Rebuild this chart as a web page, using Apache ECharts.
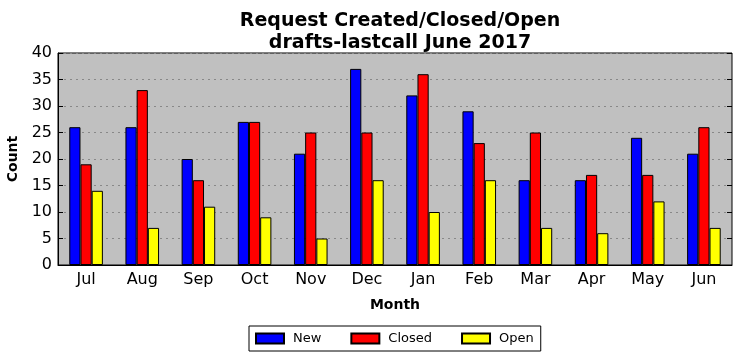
<!DOCTYPE html>
<html><head><meta charset="utf-8">
<script src="https://cdn.jsdelivr.net/npm/echarts@6/dist/echarts.min.js"></script>
<style>html,body{margin:0;padding:0;background:#fff}#c{width:741px;height:361px}</style>
</head><body><div id="c"></div>
<script>
const months = ['Jul','Aug','Sep','Oct','Nov','Dec','Jan','Feb','Mar','Apr','May','Jun'];
const newVals = [26,26,20,27,21,37,32,29,16,16,24,21];
const closedVals = [19,33,16,27,25,25,36,23,25,17,17,26];
const openVals = [14,7,11,9,5,16,10,16,7,6,12,7];
const FONT = 'DejaVu Sans';
const chart = echarts.init(document.getElementById('c'));
const barStyle = c => ({color:c, borderColor:'#000', borderWidth:1});
chart.setOption({
  animation:false,
  title:{text:'Request Created/Closed/Open\ndrafts-lastcall June 2017', left:395, textAlign:'center', top:5,
    textStyle:{fontFamily:FONT, fontWeight:'bold', fontSize:19, lineHeight:22, color:'#000'}},
  legend:{data:['New','Closed','Open'], left:249, top:326, orient:'horizontal',
    borderColor:'#000', borderWidth:1, borderRadius:0, padding:[6,7,6,6], itemGap:29,
    itemWidth:28, itemHeight:10, icon:'rect',
    textStyle:{fontFamily:FONT, fontSize:13, color:'#000', padding:[0,0,0,4]}},
  grid:{left:58, right:9, top:53, bottom:96, outerBoundsMode:'none', containLabel:false, show:true, backgroundColor:'#c0c0c0', borderColor:'#000', borderWidth:1},
  xAxis:[{type:'category', data:months, name:'Month', nameLocation:'middle', nameGap:33,
    nameTextStyle:{fontFamily:FONT, fontWeight:'bold', fontSize:14, color:'#000'},
    axisLine:{lineStyle:{color:'#000'}}, axisTick:{inside:true, alignWithLabel:true, length:5, lineStyle:{color:'#000'}},
    axisLabel:{fontFamily:FONT, fontSize:16, color:'#000', margin:7}},
    {type:'category', data:months, position:'top', axisLine:{show:false}, axisLabel:{show:false},
    axisTick:{inside:true, alignWithLabel:true, length:5, lineStyle:{color:'#000'}}}],
  yAxis:[{type:'value', min:0, max:40, interval:5, name:'Count', nameLocation:'middle', nameGap:33,
    nameTextStyle:{fontFamily:FONT, fontWeight:'bold', fontSize:14, color:'#000'},
    axisLine:{show:true, lineStyle:{color:'#000'}}, axisTick:{show:true, inside:true, length:5, lineStyle:{color:'#000'}},
    axisLabel:{fontFamily:FONT, fontSize:16, color:'#000', margin:6},
    splitLine:{show:true, lineStyle:{color:'#888', type:[2,4], width:1}}},
    {type:'value', min:0, max:40, interval:5, position:'right', axisLine:{show:false}, axisLabel:{show:false},
    axisTick:{show:true, inside:true, length:5, lineStyle:{color:'#000'}}, splitLine:{show:false}}],
  series:[
    {name:'New', type:'bar', data:newVals, barWidth:11.2, barGap:'0%', itemStyle:barStyle('#0000ff')},
    {name:'Closed', type:'bar', data:closedVals, barWidth:11.2, barGap:'0%', itemStyle:barStyle('#ff0000')},
    {name:'Open', type:'bar', data:openVals, barWidth:11.2, barGap:'0%', itemStyle:barStyle('#ffff00')}
  ]
});
</script></body></html>
